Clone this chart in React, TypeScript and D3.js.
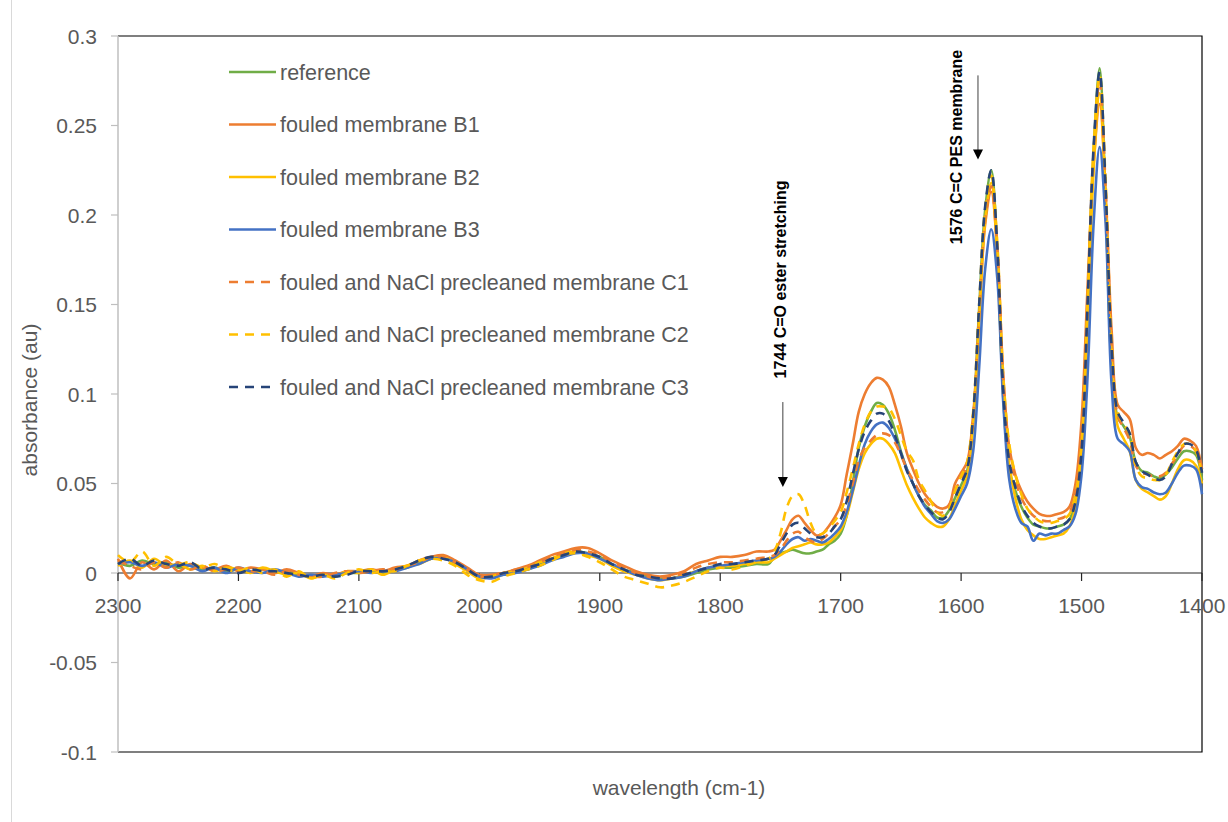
import * as d3 from "d3";
import React from "react";

// wavenumber grid (cm-1): 10 steps in the flat part, 5 steps across the bands
const wavenumbers = [
  2300, 2290, 2280, 2270, 2260, 2250, 2240, 2230, 2220, 2210,
  2200, 2190, 2180, 2170, 2160, 2150, 2140, 2130, 2120, 2110,
  2100, 2090, 2080, 2070, 2060, 2050, 2040, 2030, 2020, 2010,
  2000, 1990, 1980, 1970, 1960, 1950, 1940, 1930, 1920, 1910,
  1900, 1890, 1880, 1870, 1860, 1850, 1840, 1830, 1820, 1810,
  1800, 1790, 1780, 1770, 1760,
  1755, 1750, 1745, 1740, 1735, 1730, 1725, 1720, 1715, 1710,
  1705, 1700, 1695, 1690, 1685, 1680, 1675, 1670, 1665, 1660,
  1655, 1650, 1645, 1640, 1635, 1630, 1625, 1620, 1615, 1610,
  1605, 1600, 1595, 1590, 1585, 1580, 1575, 1570, 1565, 1560,
  1555, 1550, 1545, 1540, 1535, 1530, 1525, 1520, 1515, 1510,
  1505, 1500, 1495, 1490, 1485, 1480, 1475, 1470, 1465, 1460,
  1455, 1450, 1445, 1440, 1435, 1430, 1425, 1420, 1415, 1410,
  1405, 1400,
];

const reference = [
  0.006, 0.004, 0.007, 0.005, 0.006, 0.003, 0.004, 0.002, 0.003, 0.001,
  0.002, 0.001, 0.002, 0.000, 0.001, -0.001, -0.002, -0.001, -0.002, 0.000,
  0.000, 0.001, 0.000, 0.002, 0.003, 0.006, 0.008, 0.009, 0.006, 0.002,
  -0.002, -0.002, -0.001, 0.001, 0.002, 0.005, 0.008, 0.010, 0.012, 0.011,
  0.009, 0.005, 0.002, 0.000, -0.002, -0.003, -0.003, -0.002, 0.000, 0.002,
  0.003, 0.003, 0.004, 0.005, 0.005,
  0.009, 0.011, 0.012, 0.013, 0.012, 0.011, 0.011, 0.012, 0.013, 0.016,
  0.018, 0.022, 0.032, 0.050, 0.070, 0.082, 0.090, 0.095, 0.094, 0.089,
  0.080, 0.068, 0.058, 0.050, 0.043, 0.038, 0.035, 0.031, 0.031, 0.035,
  0.042, 0.049, 0.057, 0.085, 0.148, 0.203, 0.225, 0.180, 0.098, 0.058,
  0.046, 0.037, 0.031, 0.027, 0.026, 0.025, 0.025, 0.026, 0.027, 0.030,
  0.040, 0.073, 0.151, 0.235, 0.282, 0.207, 0.115, 0.087, 0.082, 0.076,
  0.062, 0.057, 0.056, 0.054, 0.053, 0.055, 0.059, 0.064, 0.068, 0.068,
  0.066, 0.052,
];

const fouledB1 = [
  0.008, -0.003, 0.006, 0.002, 0.007, 0.001, 0.005, 0.003, 0.002, 0.004,
  0.001, 0.003, 0.002, 0.000, 0.002, 0.000, -0.002, 0.000, -0.001, 0.001,
  0.001, 0.002, 0.001, 0.003, 0.004, 0.007, 0.009, 0.010, 0.007, 0.003,
  -0.001, -0.001, 0.000, 0.002, 0.004, 0.007, 0.010, 0.012, 0.014, 0.014,
  0.011, 0.007, 0.004, 0.001, -0.001, -0.002, -0.001, 0.001, 0.005, 0.007,
  0.009, 0.009, 0.010, 0.012, 0.012,
  0.013, 0.018, 0.024, 0.030, 0.032, 0.028, 0.024, 0.021, 0.022, 0.026,
  0.031, 0.038, 0.055, 0.072, 0.090, 0.100, 0.106, 0.109, 0.108, 0.104,
  0.094, 0.082, 0.067, 0.058, 0.050, 0.044, 0.040, 0.037, 0.036, 0.038,
  0.050, 0.056, 0.062, 0.088, 0.142, 0.195, 0.213, 0.180, 0.110, 0.070,
  0.055, 0.046, 0.040, 0.036, 0.033, 0.032, 0.032, 0.033, 0.034, 0.037,
  0.050, 0.085, 0.160, 0.228, 0.262, 0.212, 0.135, 0.094, 0.090, 0.086,
  0.070, 0.066, 0.067, 0.066, 0.064, 0.066, 0.068, 0.071, 0.075, 0.074,
  0.071, 0.058,
];

const fouledB2 = [
  0.004, 0.007, 0.003, 0.008, 0.004, 0.005, 0.002, 0.004, 0.001, 0.003,
  0.002, 0.000, 0.003, 0.001, -0.001, 0.000, -0.003, -0.001, -0.002, 0.001,
  0.000, 0.002, -0.001, 0.002, 0.004, 0.005, 0.008, 0.009, 0.005, 0.001,
  -0.003, -0.002, 0.000, 0.001, 0.003, 0.006, 0.008, 0.011, 0.012, 0.010,
  0.008, 0.004, 0.001, -0.001, -0.003, -0.004, -0.003, -0.001, 0.001, 0.003,
  0.004, 0.004, 0.005, 0.006, 0.006,
  0.008, 0.010, 0.012, 0.014, 0.015, 0.016, 0.017, 0.016, 0.016, 0.017,
  0.020, 0.024, 0.032, 0.045, 0.058, 0.067, 0.072, 0.075, 0.075, 0.072,
  0.067, 0.058, 0.049, 0.042, 0.036, 0.031, 0.028, 0.026, 0.026, 0.030,
  0.038, 0.046, 0.054, 0.083, 0.142, 0.197, 0.218, 0.178, 0.100, 0.060,
  0.042, 0.030, 0.024, 0.021, 0.019, 0.019, 0.020, 0.021, 0.022, 0.026,
  0.037, 0.064, 0.140, 0.225, 0.268, 0.208, 0.120, 0.082, 0.075, 0.068,
  0.052, 0.047, 0.045, 0.043, 0.041, 0.043, 0.050, 0.058, 0.063, 0.063,
  0.060, 0.050,
];

const fouledB3 = [
  0.005, 0.006, 0.004, 0.006, 0.003, 0.005, 0.004, 0.001, 0.003, 0.000,
  0.003, 0.001, 0.000, 0.002, 0.000, -0.002, -0.001, -0.002, -0.001, 0.000,
  0.001, 0.000, 0.001, 0.001, 0.003, 0.005, 0.008, 0.008, 0.006, 0.002,
  -0.002, -0.003, -0.001, 0.000, 0.002, 0.004, 0.007, 0.009, 0.011, 0.011,
  0.008, 0.005, 0.002, -0.001, -0.003, -0.004, -0.003, -0.002, 0.001, 0.003,
  0.004, 0.005, 0.006, 0.007, 0.008,
  0.009, 0.012, 0.016, 0.019, 0.020, 0.018, 0.019, 0.018, 0.017, 0.019,
  0.022, 0.026, 0.034, 0.046, 0.060, 0.072, 0.079, 0.083, 0.084, 0.081,
  0.075, 0.067, 0.058, 0.050, 0.043, 0.037, 0.033, 0.029, 0.028, 0.030,
  0.036, 0.043, 0.050, 0.068, 0.115, 0.170, 0.192, 0.165, 0.095, 0.052,
  0.036, 0.028, 0.026, 0.018, 0.022, 0.021, 0.022, 0.022, 0.024, 0.026,
  0.033, 0.055, 0.110, 0.195, 0.238, 0.195, 0.105, 0.075, 0.072, 0.068,
  0.052, 0.048, 0.047, 0.045, 0.044, 0.045, 0.050, 0.056, 0.060, 0.060,
  0.058, 0.044,
];

const precleanedC1 = [
  0.007, 0.004, 0.002, 0.006, 0.003, 0.006, 0.002, 0.004, 0.001, 0.002,
  0.003, 0.001, 0.001, -0.001, 0.001, -0.001, -0.002, -0.002, 0.000, 0.001,
  0.000, 0.001, 0.002, 0.002, 0.004, 0.006, 0.009, 0.009, 0.006, 0.002,
  -0.002, -0.001, 0.000, 0.002, 0.003, 0.006, 0.009, 0.011, 0.013, 0.012,
  0.010, 0.006, 0.003, 0.000, -0.002, -0.003, -0.002, 0.000, 0.003, 0.005,
  0.006, 0.006, 0.007, 0.008, 0.009,
  0.010, 0.013, 0.018, 0.022, 0.023, 0.020, 0.018, 0.017, 0.019, 0.022,
  0.026, 0.030, 0.038, 0.050, 0.063, 0.070, 0.074, 0.077, 0.078, 0.077,
  0.073, 0.066, 0.058, 0.052, 0.046, 0.041, 0.037, 0.034, 0.034, 0.038,
  0.046, 0.053, 0.060, 0.087, 0.145, 0.198, 0.216, 0.182, 0.108, 0.068,
  0.052, 0.042, 0.036, 0.032, 0.030, 0.029, 0.029, 0.030, 0.031, 0.034,
  0.045, 0.072, 0.150, 0.235, 0.275, 0.215, 0.128, 0.088, 0.081, 0.074,
  0.060, 0.056, 0.055, 0.054, 0.054, 0.056, 0.061, 0.066, 0.071, 0.071,
  0.068, 0.056,
];

const precleanedC2 = [
  0.010, 0.006, 0.012, 0.004, 0.009, 0.005, 0.006, 0.003, 0.005, 0.002,
  0.001, 0.003, 0.000, 0.002, -0.002, 0.001, -0.003, -0.001, -0.003, 0.000,
  0.002, 0.000, 0.001, 0.001, 0.004, 0.007, 0.008, 0.007, 0.004, -0.001,
  -0.004, -0.005, -0.002, 0.000, 0.002, 0.004, 0.007, 0.010, 0.011, 0.009,
  0.006, 0.002, -0.002, -0.004, -0.006, -0.008, -0.007, -0.005, -0.002, 0.001,
  0.003, 0.002, 0.004, 0.006, 0.008,
  0.012, 0.022, 0.036, 0.043, 0.044, 0.038, 0.028, 0.022, 0.022, 0.025,
  0.029, 0.034, 0.045, 0.058, 0.072, 0.083, 0.090, 0.093, 0.093, 0.092,
  0.086, 0.077, 0.068, 0.063, 0.052, 0.046, 0.040, 0.034, 0.032, 0.036,
  0.046, 0.054, 0.062, 0.090, 0.150, 0.203, 0.222, 0.185, 0.110, 0.072,
  0.055, 0.044, 0.036, 0.032, 0.029, 0.028, 0.028, 0.029, 0.030, 0.033,
  0.044, 0.072, 0.152, 0.238, 0.278, 0.218, 0.128, 0.090, 0.083, 0.078,
  0.060, 0.054, 0.053, 0.052, 0.052, 0.055, 0.062, 0.068, 0.072, 0.072,
  0.068, 0.055,
];

const precleanedC3 = [
  0.005, 0.008, 0.004, 0.007, 0.005, 0.004, 0.006, 0.002, 0.003, 0.002,
  0.000, 0.002, 0.001, 0.001, 0.000, -0.001, -0.002, -0.001, -0.002, -0.001,
  0.001, 0.001, 0.001, 0.002, 0.004, 0.007, 0.009, 0.008, 0.006, 0.002,
  -0.002, -0.002, 0.000, 0.001, 0.003, 0.005, 0.008, 0.010, 0.012, 0.011,
  0.009, 0.005, 0.002, -0.001, -0.002, -0.003, -0.003, -0.001, 0.001, 0.003,
  0.005, 0.005, 0.006, 0.007, 0.008,
  0.010, 0.016, 0.022, 0.027, 0.028, 0.025, 0.022, 0.020, 0.020, 0.022,
  0.026, 0.030, 0.040, 0.055, 0.069, 0.079, 0.085, 0.089, 0.089, 0.085,
  0.077, 0.067, 0.057, 0.050, 0.043, 0.038, 0.034, 0.031, 0.030, 0.034,
  0.042, 0.050, 0.058, 0.088, 0.150, 0.205, 0.225, 0.183, 0.102, 0.062,
  0.048, 0.038, 0.032, 0.028, 0.026, 0.025, 0.025, 0.026, 0.027, 0.030,
  0.040, 0.068, 0.150, 0.238, 0.280, 0.215, 0.126, 0.090, 0.084, 0.078,
  0.062, 0.057, 0.055, 0.053, 0.052, 0.054, 0.061, 0.067, 0.072, 0.072,
  0.069, 0.056,
];

const seriesLabels = [
  "reference",
  "fouled membrane B1",
  "fouled membrane B2",
  "fouled membrane B3",
  "fouled and NaCl precleaned membrane C1",
  "fouled and NaCl precleaned membrane C2",
  "fouled and NaCl precleaned membrane C3",
];
const seriesValues = [reference, fouledB1, fouledB2, fouledB3, precleanedC1, precleanedC2, precleanedC3];

const xTicks = [2300, 2200, 2100, 2000, 1900, 1800, 1700, 1600, 1500, 1400];
const yTicks = [-0.1, -0.05, 0, 0.05, 0.1, 0.15, 0.2, 0.25, 0.3];

// annotations: label, label position, arrow top and tip (data coordinates)
const annotations = [
  { label: "1744 C=O ester stretching", tx: 1745, ty: 0.164, ax: 1748, ay0: 0.0955, ay1: 0.048 },
  { label: "1576 C=C PES membrane", tx: 1599, ty: 0.238, ax: 1586, ay0: 0.278, ay1: 0.231 },
];

// styling
const colors = ["#70AD47", "#ED7D31", "#FFC000", "#4472C4", "#ED7D31", "#FFC000", "#264478"];
const dashes = [null, null, null, null, "9,7", "9,7", "9,7"];
const font = "'Liberation Sans', Arial, sans-serif";
const textGray = "#595959";

const W = 1228;
const H = 822;
const plot = { left: 118, right: 1202, top: 36, bottom: 752 };

export default function App() {
  const x = d3.scaleLinear().domain([2300, 1400]).range([plot.left, plot.right]);
  const y = d3.scaleLinear().domain([-0.1, 0.3]).range([plot.bottom, plot.top]);

  const line = d3
    .line<number>()
    .x((_, i) => x(wavenumbers[i]))
    .y((d) => y(d))
    .curve(d3.curveCatmullRom.alpha(0.5));

  const fmt = (v: number) => (Math.abs(v) < 1e-9 ? "0" : String(+v.toFixed(2)));

  return (
    <svg width={W} height={H} style={{ position: "absolute", left: 0, top: 0, background: "#fff" }} fontFamily={font}>
      <rect x={0} y={0} width={W} height={H} fill="#fff" />
      <line x1={11.5} x2={11.5} y1={0} y2={H} stroke="#d9d9d9" />

      {/* plot frame */}
      <path
        d={`M${plot.left},${plot.top}H${plot.right}V${plot.bottom}H${plot.left}`}
        fill="none"
        stroke="#000"
        strokeWidth={1.2}
      />

      {/* y axis */}
      <line x1={plot.left} x2={plot.left} y1={plot.top} y2={plot.bottom} stroke="#bfbfbf" strokeWidth={1.5} />
      {yTicks.map((t) => (
        <g key={t}>
          <line x1={plot.left - 7} x2={plot.left} y1={y(t)} y2={y(t)} stroke="#bfbfbf" strokeWidth={1.2} />
          <text x={97} y={y(t)} dy="0.36em" textAnchor="end" fontSize={21} fill={textGray}>
            {fmt(t)}
          </text>
        </g>
      ))}

      {/* x axis at zero */}
      <line x1={plot.left} x2={plot.right} y1={y(0)} y2={y(0)} stroke="#262626" strokeWidth={1.2} />
      {xTicks.map((t) => (
        <g key={t}>
          <line x1={x(t)} x2={x(t)} y1={y(0)} y2={y(0) + 8} stroke="#262626" strokeWidth={1.2} />
          <text x={x(t)} y={613} textAnchor="middle" fontSize={21} fill={textGray}>
            {t}
          </text>
        </g>
      ))}

      {/* series */}
      {seriesValues.map((vals, i) => (
        <path
          key={seriesLabels[i]}
          d={line(vals) || ""}
          fill="none"
          stroke={colors[i]}
          strokeWidth={2.6}
          strokeDasharray={dashes[i] || undefined}
          strokeLinejoin="round"
        />
      ))}

      {/* legend */}
      {seriesLabels.map((label, i) => {
        const ly = 72 + i * 52.5;
        return (
          <g key={label}>
            <line
              x1={229}
              x2={276}
              y1={ly}
              y2={ly}
              stroke={colors[i]}
              strokeWidth={2.6}
              strokeDasharray={dashes[i] || undefined}
            />
            <text x={280} y={ly + 7.5} fontSize={21.5} fill={textGray}>
              {label}
            </text>
          </g>
        );
      })}

      {/* annotations */}
      {annotations.map((a) => (
        <g key={a.label}>
          <text
            transform={`translate(${x(a.tx)},${y(a.ty)}) rotate(-90)`}
            textAnchor="middle"
            fontSize={16}
            fontWeight="bold"
            fill="#000"
          >
            {a.label}
          </text>
          <line x1={x(a.ax)} x2={x(a.ax)} y1={y(a.ay0)} y2={y(a.ay1) - 9} stroke="#404040" strokeWidth={1} />
          <path
            d={`M${x(a.ax) - 5},${y(a.ay1) - 10}L${x(a.ax) + 5},${y(a.ay1) - 10}L${x(a.ax)},${y(a.ay1)}Z`}
            fill="#000"
          />
        </g>
      ))}

      {/* axis titles */}
      <text transform="translate(37,400) rotate(-90)" textAnchor="middle" fontSize={21} fill={textGray}>
        absorbance (au)
      </text>
      <text x={679} y={795} textAnchor="middle" fontSize={21} fill={textGray}>
        wavelength (cm-1)
      </text>
    </svg>
  );
}
